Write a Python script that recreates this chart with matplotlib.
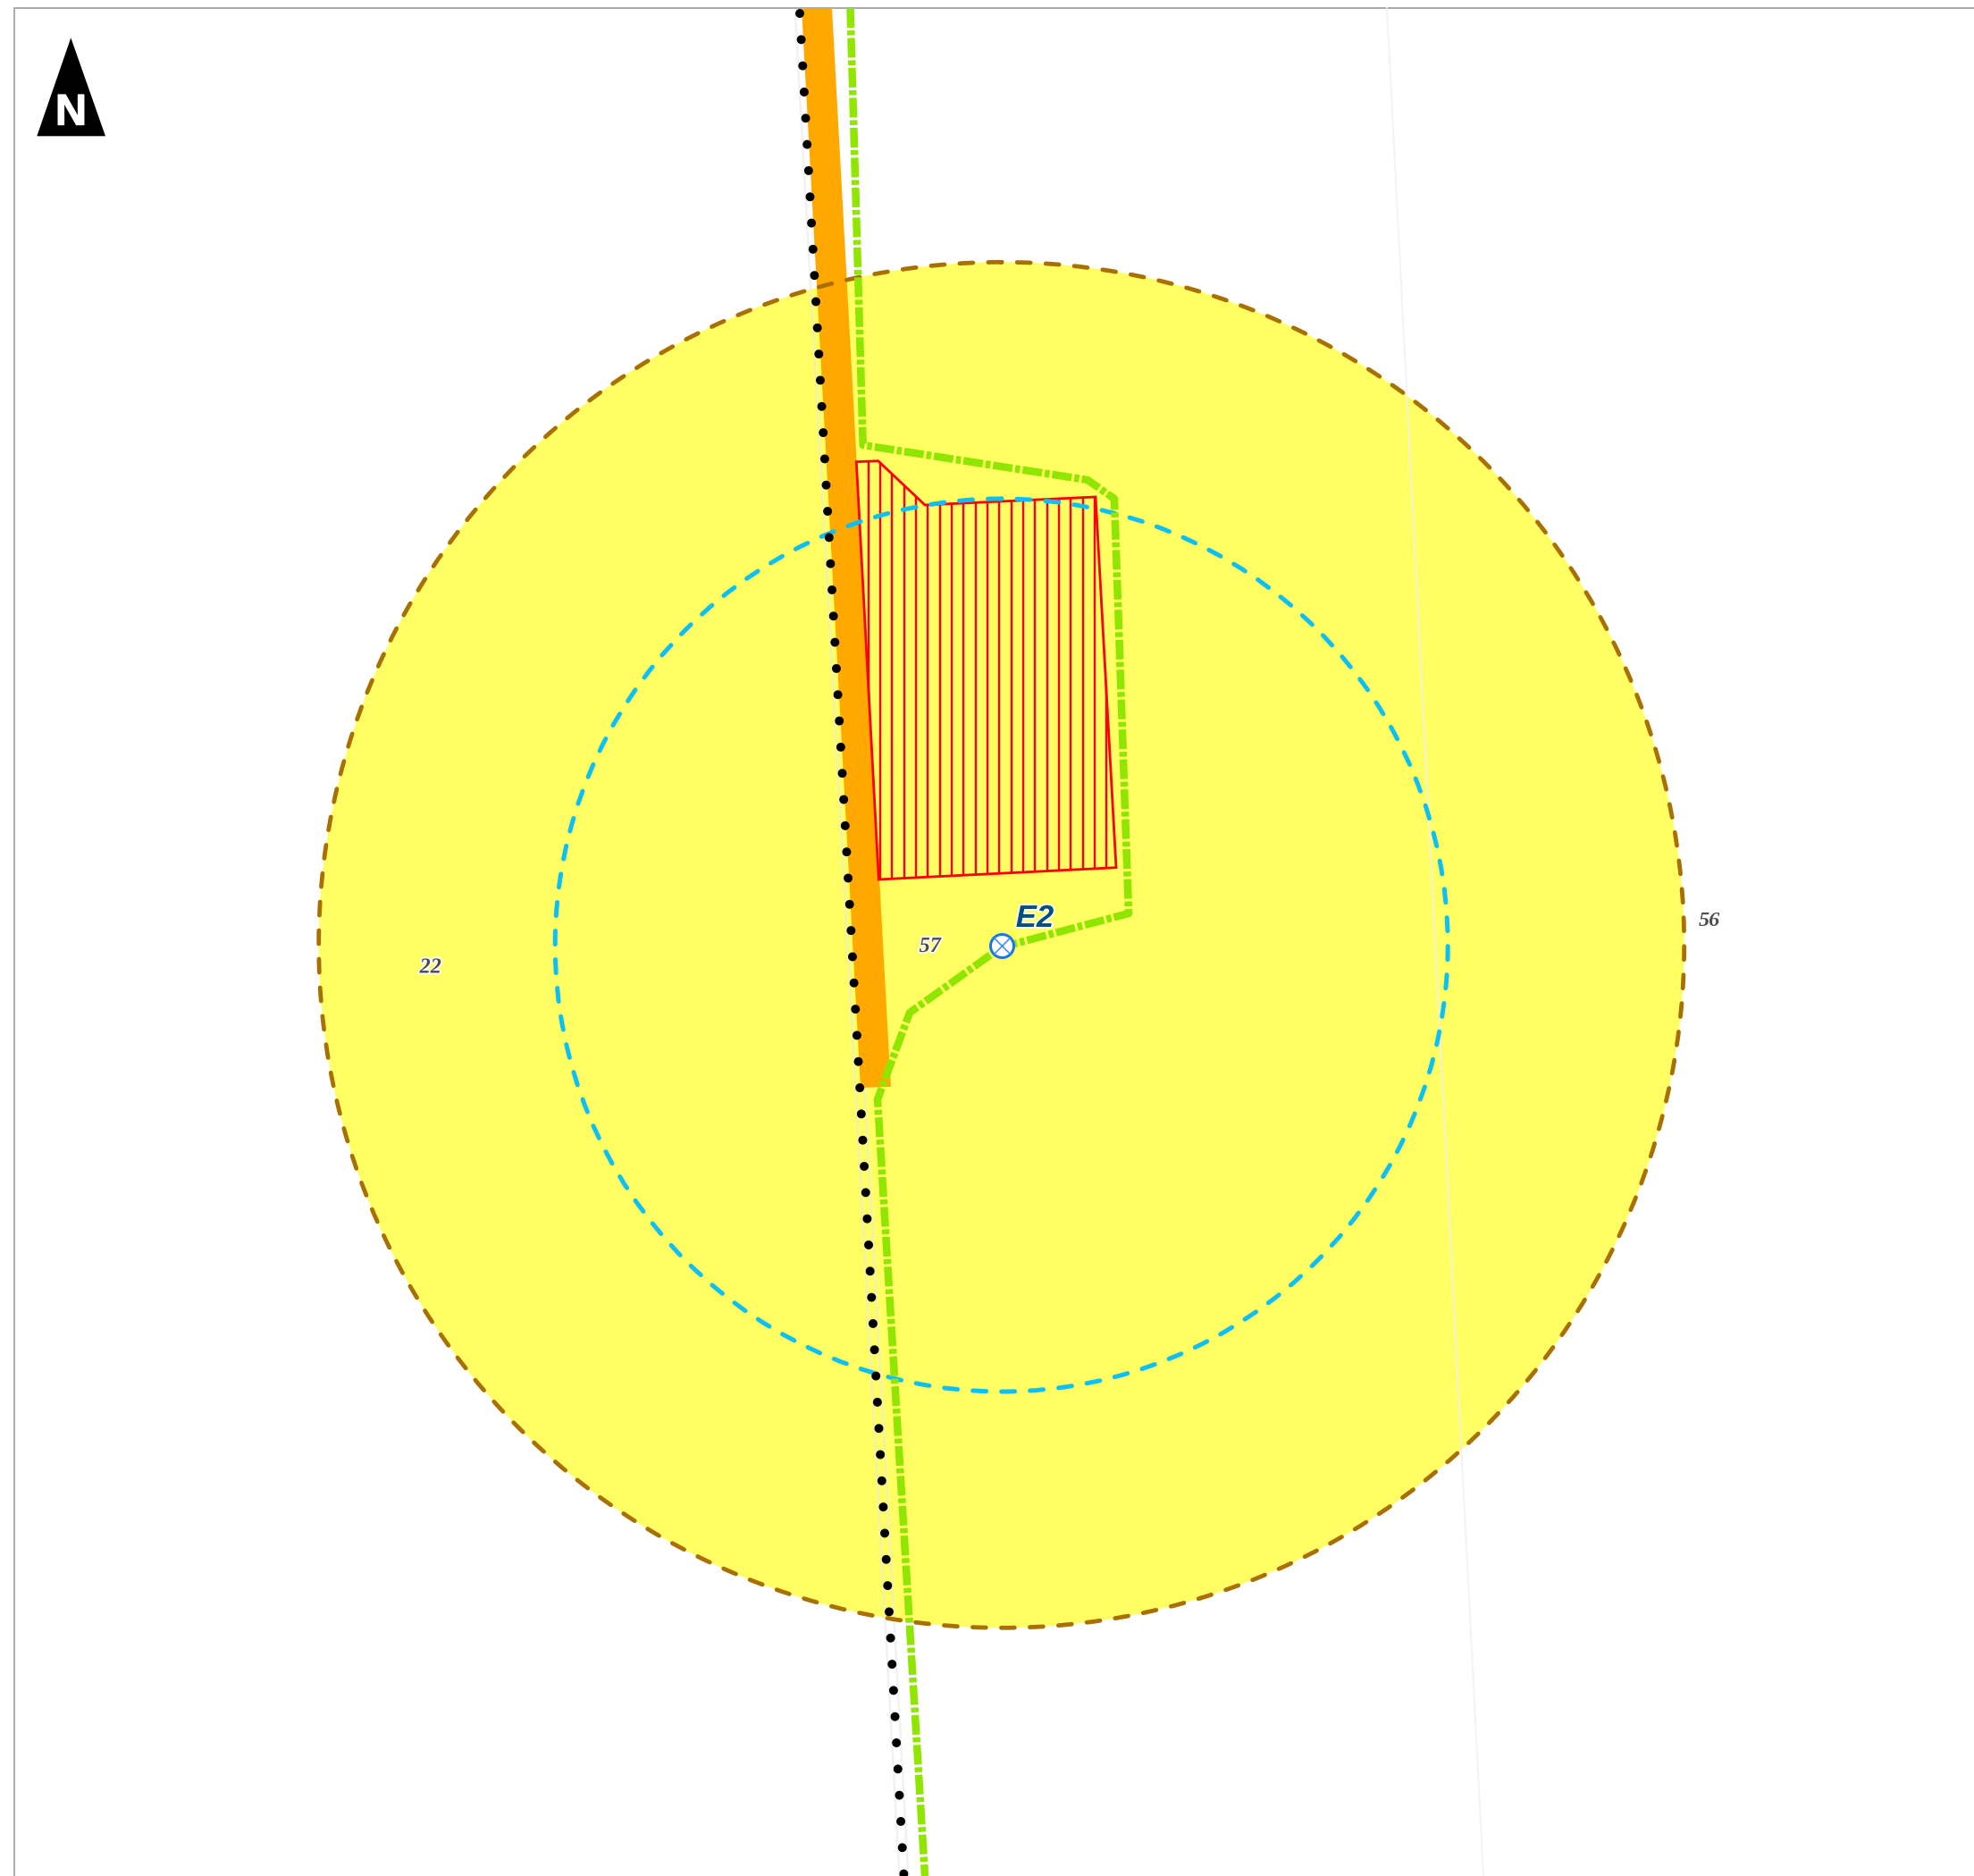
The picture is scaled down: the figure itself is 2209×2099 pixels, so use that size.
# Site map: buffer circles, road, boundary and hatched parcel (pixel coordinates of the map)

import numpy as np
import matplotlib
matplotlib.use('Agg')
import matplotlib.pyplot as plt
from matplotlib.patches import Circle, Polygon
import matplotlib.patheffects as pe

W, H = 2209, 2099
PT = 0.72  # one pixel in points at dpi 100

outer_center = (1120.7, 1057.3)
outer_radius = 764
inner_center = (1120.7, 1057.5)
inner_radius = 499.5

road_x = [897, 931, 995, 997, 963]
road_y = [9, 9, 1183, 1216, 1217]

boundary_x = [951.5, 965.7, 1217, 1247, 1263, 1120, 1018, 982, 1035]
boundary_y = [9, 498, 537, 558, 1022, 1060, 1133, 1230, 2099]

rail_x = [895, 1011.5]
rail_y = [15, 2099]

faint_x = [1552, 1660]
faint_y = [9, 2099]

parcel_x = [958.3, 982.7, 1035, 1226, 1249, 983.3]
parcel_y = [516.7, 515.7, 565, 556, 970.7, 984]

hatch_first = 971.7
hatch_step = 13.33
hatch_count = 21

arrow_x = [79.3, 41.3, 118]
arrow_y = [42.3, 152.3, 152.3]

site_x, site_y = 1120.7, 1057.7
site_name = 'E2'
site_label_xy = (1158, 1027.5)

num_labels = ['22', '57', '56']
num_x = [481.7, 1040.7, 1912.7]
num_y = [1083, 1059.5, 1030.5]
num_halo = [True, True, False]

plt.rcParams['lines.scale_dashes'] = False

fig = plt.figure(figsize=(W / 100, H / 100), dpi=100, facecolor='white')
ax = fig.add_axes([0, 0, 1, 1])
ax.set_xlim(0, W)
ax.set_ylim(H, 0)
ax.axis('off')

# frame, only left and top
ax.plot([15.5, 15.5, W], [H, 9, 9], color='#aaaaaa', lw=2 * PT, zorder=1)

# buffer fill
ax.add_patch(Circle(outer_center, outer_radius, facecolor='#FFFF63', edgecolor='none', zorder=2))

# thin background line and the faint edges of the rail
ax.plot(faint_x, faint_y, color='#f0f0f0', lw=2 * PT, alpha=0.8, zorder=3)
for off in (-5, 5):
    ax.plot(np.array(rail_x) + off, rail_y, color='#e8e8e8', lw=2.5 * PT, alpha=0.6, zorder=3)

ax.add_patch(Polygon(np.column_stack([road_x, road_y]), facecolor='#FFA800', edgecolor='none', zorder=4))

# parcel with vertical hatch clipped to the outline
parcel = Polygon(np.column_stack([parcel_x, parcel_y]), facecolor='none', edgecolor='#ff0000',
                 lw=2.8 * PT, joinstyle='miter', zorder=6)
ax.add_patch(parcel)
hatch_xs = hatch_first + hatch_step * np.arange(hatch_count)
hatch = ax.vlines(hatch_xs, 500, 1000, color='#ff0000', lw=2.4 * PT, zorder=5)
hatch.set_clip_path(parcel)

# buffer outlines, round caps add one line width to each dash
ax.add_patch(Circle(inner_center, inner_radius, facecolor='none', edgecolor='#0CC0F5', lw=5 * PT,
                    linestyle=(14.7 * PT, (15 * PT, 17.02 * PT)), capstyle='round', zorder=6.5))
ax.add_patch(Circle(outer_center, outer_radius, facecolor='none', edgecolor='#A87000', lw=4.8 * PT,
                    linestyle=(14.5 * PT, (15 * PT, 17 * PT)), capstyle='round', zorder=6.5))

# dash-dot boundary
ax.plot(boundary_x, boundary_y, color='#90E600', lw=8.5 * PT, solid_joinstyle='round',
        linestyle=(0, (22 * PT, 3 * PT, 5.5 * PT, 3 * PT)), dash_capstyle='butt', dash_joinstyle='round', zorder=7)

# rail dots
ax.plot(rail_x, rail_y, color='black', lw=10 * PT, linestyle=(0, (0.01, 29.35 * PT)),
        dash_capstyle='round', zorder=9)

# site marker
ax.scatter([site_x], [site_y], s=(26 * PT) ** 2, facecolor='white', edgecolor='#1478F0',
           linewidths=3 * PT, marker='o', zorder=10)
ax.scatter([site_x], [site_y], s=(18 * PT) ** 2, color='#3f90f0', linewidths=1.6 * PT, marker='x', zorder=11)

ax.text(site_label_xy[0], site_label_xy[1], site_name, family='Liberation Sans', style='italic', weight='bold',
        fontsize=25, color='#00507F', ha='center', va='center', zorder=12,
        path_effects=[pe.withStroke(linewidth=2.5, foreground='white')])

for label, x, y, halo in zip(num_labels, num_x, num_y, num_halo):
    t = ax.text(x, y, label, family='Liberation Serif', style='italic', weight='bold', fontsize=17.5,
                color='#4d4d4d', ha='center', va='center', zorder=12)
    if halo:
        t.set_path_effects([pe.withStroke(linewidth=2.5, foreground='white')])

# north arrow
ax.add_patch(Polygon(np.column_stack([arrow_x, arrow_y]), facecolor='black', edgecolor='none', zorder=12))
ax.text(79.5, 139.5, 'N', family='Liberation Sans', weight='bold', fontsize=35, color='white',
        ha='center', va='baseline', zorder=13,
        path_effects=[pe.withStroke(linewidth=1, foreground='white')])

fig.savefig('out.png', dpi=100)
